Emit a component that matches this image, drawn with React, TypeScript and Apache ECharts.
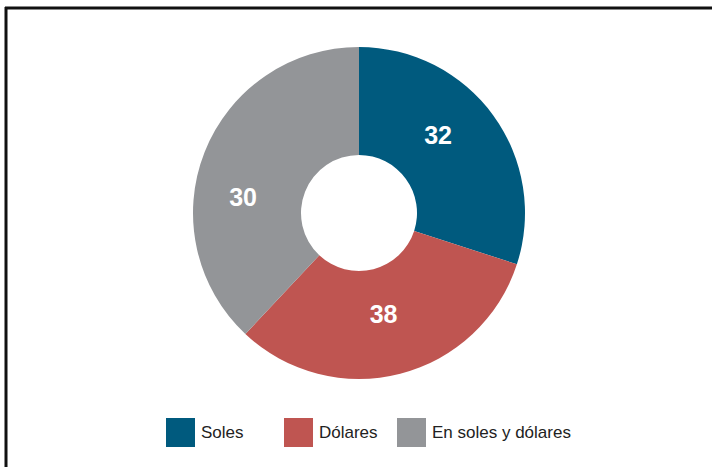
import React, { useEffect, useRef } from "react";
import * as echarts from "echarts";

// Category names (legend order)
const categories = ["Soles", "Dólares", "En soles y dólares"];
// Slice shares as drawn in the reference (angles)
const sliceShares = [30, 32, 38];
// Value labels printed on the slices
const valueLabels = ["32", "38", "30"];

const colors = ["#005a7e", "#bf5551", "#939598"];
const labelOffsets: [number, number][] = [
  [-14, -10],
  [-4, -10],
  [-9, 26],
];
const legendLefts = [166, 284, 397];

export default function App() {
  const ref = useRef<HTMLDivElement>(null);
  useEffect(() => {
    if (!ref.current) return;
    const chart = echarts.init(ref.current, undefined, { renderer: "svg" });
    chart.setOption({
      animation: false,
      backgroundColor: "#ffffff",
      color: colors,
      legend: categories.map((name, i) => ({
        data: [name],
        left: legendLefts[i],
        top: 418,
        padding: 0,
        itemWidth: 29,
        itemHeight: 29,
        icon: "rect",
        itemGap: 0,
        textStyle: {
          fontFamily: "Liberation Sans",
          fontSize: 17,
          color: "#222222",
          padding: [0, 0, 0, 1],
        },
        selectedMode: false,
      })),
      graphic: [
        {
          type: "line",
          shape: { x1: 5, y1: 8, x2: 712, y2: 8 },
          style: { stroke: "#111111", lineWidth: 3 },
        },
        {
          type: "line",
          shape: { x1: 6, y1: 7, x2: 6, y2: 467 },
          style: { stroke: "#111111", lineWidth: 3 },
        },
      ],
      series: [
        {
          type: "pie",
          center: [359, 213],
          radius: [58, 166],
          startAngle: 90,
          clockwise: true,
          avoidLabelOverlap: false,
          label: {
            show: true,
            position: "inside",
            color: "#ffffff",
            fontFamily: "Liberation Sans",
            fontWeight: "bold",
            fontSize: 25,
          },
          labelLine: { show: false },
          emphasis: { disabled: true },
          data: categories.map((name, i) => ({
            name,
            value: sliceShares[i],
            label: { formatter: valueLabels[i], offset: labelOffsets[i] },
          })),
        },
      ],
    });
    return () => chart.dispose();
  }, []);
  return (
    <div
      ref={ref}
      style={{ position: "fixed", left: 0, top: 0, width: 712, height: 467 }}
    />
  );
}
